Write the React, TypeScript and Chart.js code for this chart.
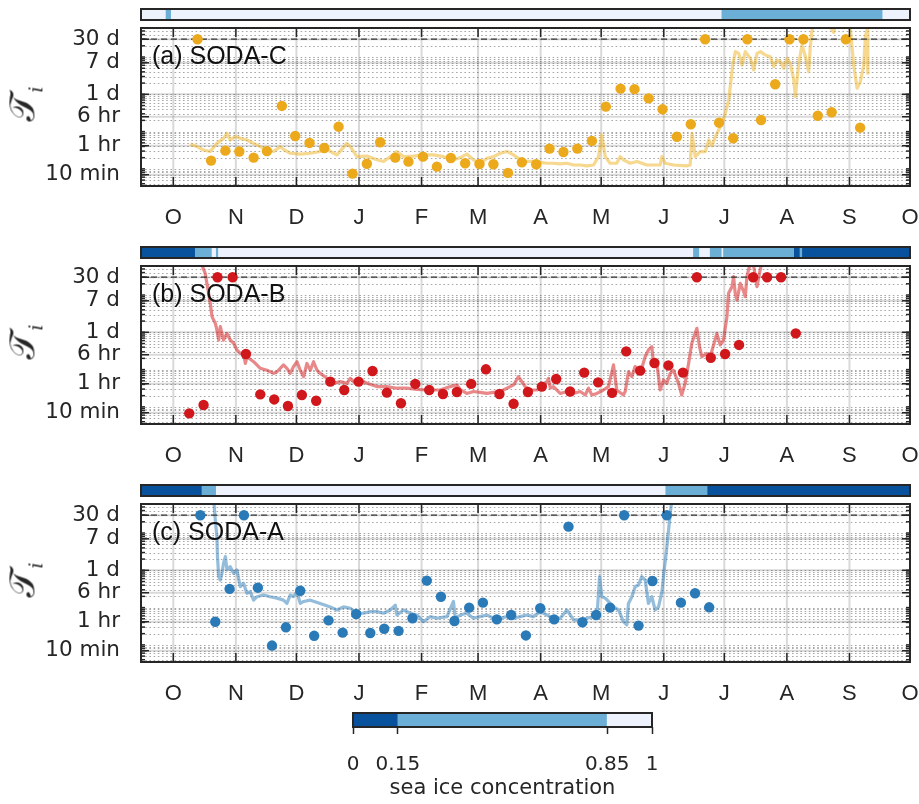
import React, { useEffect, useRef } from "react";
import { Chart, registerables } from "chart.js";

Chart.register(...registerables);

// ---------- axes ----------
// time axis: days since 1 October; the view opens mid-September
const DAY_MIN = -16;
const DAY_MAX = 365;
const MONTH_START_DAYS = [0, 31, 61, 92, 123, 151, 182, 212, 243, 273, 304, 335, 365];
const MONTH_LABELS = ["O", "N", "D", "J", "F", "M", "A", "M", "J", "J", "A", "S", "O"];

// timescale axis, in days
const TIMESCALE_TICKS = [1 / 144, 1 / 24, 6 / 24, 1, 7, 30];
const TIMESCALE_LABELS = ["10 min", "1 hr", "6 hr", "1 d", "7 d", "30 d"];
const TIMESCALE_MIN = 5 / 1440;
const TIMESCALE_MAX = 60;
const CAP_DAYS = 30;
const HOURS_PER_DAY = 24;

// sea ice concentration classes
const ICE_CLASS_EDGES = [0, 0.15, 0.85, 1];
const ICE_CLASS_LABELS = ["0", "0.15", "0.85", "1"];
const ICE_CLASS_COLORS = ["#08519c", "#6baed6", "#eef2fd"];

// ---------- SODA-C ----------
const sodaCLineDays = [
  8.4, 11.7, 15.0, 18.3, 21.6, 24.9, 26.6, 28.2, 30.7, 33.2,
  36.5, 39.8, 43.1, 46.4, 49.7, 53.0, 54.6, 57.9, 62.9, 67.9,
  72.8, 76.1, 77.8, 81.1, 86.0, 87.7, 91.0, 95.9, 100.9, 104.2,
  107.5, 110.8, 114.1, 119.0, 124.0, 128.9, 133.9, 138.8, 142.2, 145.4,
  148.7, 152.0, 155.4, 158.7, 162.0, 165.3, 168.6, 171.9, 175.2, 178.4,
  181.8, 185.1, 188.3, 191.7, 195.0, 198.3, 201.6, 204.9, 208.2, 210.7,
  212.3, 214.0, 216.4, 219.7, 221.4, 223.0, 226.4, 229.7, 234.6, 241.2,
  242.1, 243.7, 247.9, 254.5, 256.1, 257.0, 258.6, 261.1, 263.6, 265.3,
  266.9, 268.6, 270.2, 271.9, 273.5, 275.2, 276.3, 277.3, 278.5, 280.1,
  281.8, 283.4, 285.9, 287.6, 289.2, 290.9, 293.3, 295.8, 297.5, 299.1,
  300.8, 302.4, 304.1, 305.7, 307.4, 308.2, 309.9, 311.5, 313.2, 314.8,
  315.6, 316.5, 318.1, 322.3, 327.2, 328.9, 333.8, 335.5, 337.1, 338.8,
  340.4, 342.1, 342.9, 343.7, 344.1,
];
const sodaCLineHours = [
  1.12, 0.95, 0.77, 0.7, 1.16, 1.58, 2.16, 1.43, 1.76, 1.58,
  1.43, 1.16, 0.95, 0.77, 0.7, 0.95, 0.8, 0.63, 0.6, 0.63,
  0.7, 0.85, 0.7, 0.57, 1.16, 0.95, 0.51, 0.53, 0.42, 0.38,
  0.51, 0.7, 0.51, 0.53, 0.57, 0.57, 0.51, 0.42, 0.48, 0.6,
  0.42, 0.34, 0.46, 0.51, 0.63, 0.7, 0.57, 0.42, 0.38, 0.38,
  0.36, 0.34, 0.34, 0.325, 0.34, 0.305, 0.305, 0.29, 0.305, 0.51,
  1.95, 0.51, 0.34, 0.34, 0.51, 0.42, 0.34, 0.38, 0.305, 0.305,
  0.51, 0.34, 0.305, 0.29, 0.305, 2.16, 0.51, 0.7, 0.7, 1.43,
  1.0, 1.76, 2.65, 4.0, 7.4, 16.9, 58, 163, 334, 301,
  146, 334, 221, 108, 301, 334, 271, 245, 132, 199,
  180, 119, 221, 163, 58, 20.7, 163, 504, 245, 97,
  454, 1271, 3000, 3000, 1100, 3000, 3000, 1271, 146, 35,
  52, 146, 842, 1271, 88,
];
const sodaCPointDays = [
  12.0, 18.7, 25.8, 32.7, 39.8, 46.4, 53.8, 60.4, 67.5, 74.8,
  81.9, 88.8, 95.9, 102.5, 110.0, 116.5, 123.7, 130.6, 137.5, 144.6,
  151.7, 158.6, 165.8, 172.7, 179.8, 186.4, 193.3, 200.2, 207.4, 214.3,
  221.6, 228.5, 235.5, 242.4, 249.5, 256.4, 263.5, 270.4, 277.4, 284.4,
  291.2, 298.2, 305.3, 312.2, 319.3, 326.2, 333.2, 340.3,
];
const sodaCPointHours = [
  720, 0.4, 0.74, 0.7, 0.48, 0.72, 11.7, 1.83, 1.19, 0.87,
  3.25, 0.179, 0.33, 1.24, 0.48, 0.375, 0.51, 0.275, 0.47, 0.34,
  0.325, 0.32, 0.187, 0.36, 0.32, 0.84, 0.68, 0.84, 1.35, 11.2,
  34, 33, 18.7, 9.5, 1.75, 3.77, 720, 4.16, 1.59, 720,
  4.9, 44.5, 720, 720, 6.4, 7.9, 720, 3.06,
];
const sodaCIceEdges = [-16, -3.6, -1.0, 271.8, 351.5, 365];
const sodaCIceClass = [2, 1, 2, 1, 2];

// ---------- SODA-B ----------
const sodaBLineDays = [
  14.2, 15.8, 17.5, 18.3, 19.2, 20.0, 20.8, 21.6, 22.5, 23.3,
  24.9, 26.6, 28.2, 29.9, 31.5, 33.2, 34.8, 35.7, 36.5, 39.8,
  43.1, 46.4, 49.7, 51.4, 54.6, 56.3, 57.9, 59.6, 61.3, 62.9,
  64.6, 66.2, 67.9, 69.5, 71.2, 72.8, 76.1, 79.4, 82.7, 86.0,
  87.7, 89.3, 92.6, 95.9, 100.9, 105.8, 110.8, 115.7, 120.7, 125.7,
  132.2, 137.2, 140.5, 142.2, 145.4, 148.7, 152.0, 155.4, 158.7, 162.0,
  165.3, 168.6, 171.0, 172.7, 174.3, 176.8, 180.1, 183.4, 185.1, 185.9,
  186.8, 188.3, 191.7, 195.0, 198.3, 201.6, 204.1, 205.7, 207.4, 209.9,
  213.1, 215.6, 218.1, 219.7, 223.0, 223.9, 225.5, 227.2, 228.8, 231.3,
  233.8, 235.4, 237.1, 237.9, 239.6, 241.2, 242.9, 244.5, 246.2, 247.8,
  250.3, 251.9, 253.6, 255.3, 256.9, 259.4, 260.7, 261.9, 264.4, 266.0,
  267.7, 269.3, 271.0, 272.6, 274.3, 275.1, 276.8, 277.6, 278.4, 279.3,
  280.9, 282.6, 283.4, 284.2, 285.0, 285.9, 287.6, 289.2, 290.9, 291.7,
];
const sodaBLineHours = [
  1530, 914, 266, 144, 63, 51, 42, 27.7, 14.9, 34,
  14.9, 22.5, 14.9, 12.2, 8.1, 6.5, 6.5, 3.5, 5.3, 3.9,
  2.6, 2.3, 1.9, 2.1, 3.2, 2.6, 1.9, 2.9, 3.9, 2.3,
  1.55, 3.5, 2.3, 3.9, 2.3, 1.9, 1.4, 1.03, 1.14, 1.03,
  1.4, 1.14, 1.26, 1.03, 0.84, 0.84, 0.76, 0.76, 0.71, 0.68,
  0.68, 0.84, 0.93, 0.7, 0.55, 0.62, 0.59, 0.55, 0.59, 0.62,
  0.76, 0.93, 1.55, 1.14, 0.84, 0.68, 0.68, 0.84, 1.14, 1.4,
  0.76, 0.84, 0.55, 0.62, 0.55, 0.62, 0.5, 0.76, 0.5, 0.55,
  0.68, 0.84, 3.2, 0.68, 0.5, 0.62, 2.1, 1.55, 2.9, 1.9,
  5.3, 8.1, 9.9, 3.5, 3.5, 0.68, 1.26, 1.03, 1.9, 2.3,
  1.03, 0.5, 1.03, 3.5, 12.2, 30.7, 9.9, 5.3, 6.5, 5.3,
  11.0, 22.5, 11.0, 14.9, 63, 266, 402, 745, 266, 176,
  493, 295, 217, 745, 1125, 1690, 1380, 402, 1245, 1690,
];
const sodaBPointDays = [
  7.9, 15.0, 21.9, 29.4, 36.0, 43.1, 50.0, 56.8, 63.7, 70.8,
  77.8, 84.7, 91.8, 98.7, 105.8, 112.8, 119.9, 126.8, 133.6, 140.5,
  147.6, 154.9, 161.6, 168.6, 175.7, 182.6, 189.7, 196.6, 203.6, 210.5,
  217.4, 224.4, 231.3, 238.4, 245.3, 252.5, 259.4, 266.3, 273.4, 280.3,
  287.3, 294.2, 301.1, 308.4,
];
const sodaBPointHours = [
  0.161, 0.27, 720, 720, 6.3, 0.52, 0.38, 0.254, 0.5, 0.35,
  1.14, 0.68, 1.14, 2.2, 0.58, 0.3, 0.99, 0.68, 0.53, 0.6,
  0.99, 2.44, 0.53, 0.29, 0.6, 0.84, 1.34, 0.62, 1.99, 1.09,
  0.57, 7.4, 2.25, 3.6, 3.1, 1.99, 720, 5.0, 6.3, 11,
  720, 720, 720, 22.5,
];
const sodaBIceEdges = [
  -16, 10.9, 19.2, 21.3, 22.4, 257.7, 260.7, 266.0, 271.8, 272.6, 307.7, 310.5, 311.7, 365,
];
const sodaBIceClass = [0, 1, 2, 1, 2, 1, 2, 1, 2, 1, 0, 1, 0];

// ---------- SODA-A ----------
const sodaALineDays = [
  20.0, 20.8, 21.6, 21.9, 22.5, 23.3, 24.1, 24.9, 25.8, 26.6,
  28.2, 29.9, 31.5, 33.2, 34.8, 36.5, 38.1, 39.8, 41.5, 44.7,
  48.0, 51.4, 54.6, 56.3, 57.9, 59.6, 61.3, 62.9, 64.6, 67.9,
  72.8, 77.8, 81.1, 84.3, 87.7, 91.0, 94.3, 97.6, 100.9, 104.2,
  107.5, 110.0, 110.8, 114.1, 117.4, 120.7, 124.0, 127.3, 130.6, 135.6,
  138.8, 139.7, 142.2, 145.4, 148.7, 152.0, 155.4, 158.7, 162.0, 165.3,
  168.6, 171.9, 175.2, 178.4, 181.8, 185.1, 188.3, 191.7, 195.0, 198.3,
  201.6, 204.9, 208.2, 209.9, 211.2, 212.3, 214.0, 215.6, 218.1, 220.6,
  223.0, 224.7, 225.5, 227.2, 228.8, 230.5, 232.1, 233.8, 235.4, 237.1,
  238.7, 240.4, 242.1, 243.2, 244.2, 245.4, 246.2, 247.1,
];
const sodaALineHours = [
  2000, 536, 192, 56, 16.2, 13.2, 19.9, 37, 56, 24.5,
  30, 19.9, 24.5, 8.7, 10.7, 5.8, 6.4, 3.8, 4.7, 5.2,
  4.7, 4.3, 3.8, 3.1, 5.2, 4.7, 6.4, 3.1, 3.5, 3.8,
  3.1, 2.5, 2.07, 2.5, 2.3, 1.69, 1.69, 1.87, 1.87, 1.69,
  2.07, 2.8, 1.52, 2.07, 1.69, 1.52, 1.01, 1.37, 1.24, 1.37,
  3.5, 1.24, 1.52, 1.69, 1.24, 1.37, 1.52, 1.24, 1.24, 1.37,
  1.24, 1.37, 1.52, 1.37, 1.87, 1.52, 1.24, 1.24, 2.07, 1.12,
  1.12, 1.24, 1.37, 1.37, 16.2, 4.7, 4.3, 3.5, 2.5, 2.07,
  1.01, 0.82, 3.1, 4.7, 8.7, 9.7, 16.2, 13.2, 3.1, 4.7,
  2.07, 2.5, 6.4, 24.5, 68, 289, 809, 2000,
];
const sodaAPointDays = [
  13.4, 20.8, 27.9, 35.0, 41.9, 48.9, 55.8, 62.9, 69.8, 76.9,
  83.9, 90.6, 97.6, 104.5, 111.6, 118.5, 125.6, 132.6, 139.3, 146.6,
  153.4, 160.3, 167.4, 174.7, 181.8, 188.7, 195.8, 202.7, 209.5, 216.4,
  223.4, 230.5, 237.4, 244.5, 251.5, 258.5, 265.5,
];
const sodaAPointHours = [
  720, 1.0, 7.6, 720, 8.2, 0.23, 0.71, 6.8, 0.42, 1.09,
  0.51, 1.62, 0.5, 0.65, 0.57, 1.24, 12.7, 4.7, 1.05, 2.39,
  3.26, 1.16, 1.52, 0.43, 2.3, 1.16, 355, 0.97, 1.52, 2.39,
  720, 0.79, 12.4, 720, 3.26, 5.8, 2.44,
];
const sodaAIceEdges = [-16, 14.2, 21.3, 244.0, 264.8, 365];
const sodaAIceClass = [0, 1, 2, 1, 0];

// ---------- layout ----------
const INK = "#262626";
const TICK_FONT = "'DejaVu Sans', 'Liberation Sans', sans-serif";
const LABEL_FONT = "'Liberation Sans', Arial, Helvetica, sans-serif";
const CANVAS_W = 919;
const PANEL_STEP = 238;
const PANEL_H = 230;
const PLOT_LEFT = 141;
const PLOT_RIGHT_PAD = 9;
const PLOT_TOP = 28;
const PLOT_H = 158;
const STRIP_H = 24;

// dotted minor grid at 1..9 x 10^n days
const MINOR_GRID_DAYS: number[] = [];
for (let e = -3; e <= 1; e++) {
  for (let k = 1; k <= 9; k++) {
    const v = k * Math.pow(10, e);
    if (v > TIMESCALE_MIN && v < TIMESCALE_MAX) MINOR_GRID_DAYS.push(v);
  }
}

const toPoints = (days: number[], hours: number[]) =>
  days.map((d, i) => ({ x: d, y: hours[i] / HOURS_PER_DAY }));

const panelFrame = {
  id: "panelFrame",
  beforeDatasetsDraw(chart: any) {
    const { ctx, chartArea: a } = chart;
    const xs = chart.scales.x;
    const ys = chart.scales.y;
    ctx.save();
    ctx.beginPath();
    ctx.rect(a.left, a.top, a.right - a.left, a.bottom - a.top);
    ctx.clip();
    // dotted minor rows
    ctx.lineWidth = 1;
    ctx.strokeStyle = "rgba(0,0,0,0.34)";
    ctx.setLineDash([1.6, 2.6]);
    for (const v of MINOR_GRID_DAYS) {
      const py = Math.round(ys.getPixelForValue(v)) + 0.5;
      ctx.beginPath();
      ctx.moveTo(a.left, py);
      ctx.lineTo(a.right, py);
      ctx.stroke();
    }
    // solid major rows and month columns
    ctx.setLineDash([]);
    ctx.strokeStyle = "rgba(0,0,0,0.15)";
    ctx.lineWidth = 2;
    for (const v of TIMESCALE_TICKS) {
      const py = ys.getPixelForValue(v);
      ctx.beginPath();
      ctx.moveTo(a.left, py);
      ctx.lineTo(a.right, py);
      ctx.stroke();
    }
    for (const d of MONTH_START_DAYS) {
      const px = xs.getPixelForValue(d);
      ctx.beginPath();
      ctx.moveTo(px, a.top);
      ctx.lineTo(px, a.bottom);
      ctx.stroke();
    }
    ctx.restore();
  },
  afterDraw(chart: any) {
    const { ctx, chartArea: a } = chart;
    const xs = chart.scales.x;
    const ys = chart.scales.y;
    ctx.save();
    ctx.strokeStyle = INK;
    ctx.lineWidth = 1.5;
    const seg = (x1: number, y1: number, x2: number, y2: number) => {
      ctx.beginPath();
      ctx.moveTo(x1, y1);
      ctx.lineTo(x2, y2);
      ctx.stroke();
    };
    for (const v of MINOR_GRID_DAYS) {
      const py = ys.getPixelForValue(v);
      seg(a.left, py, a.left + 4, py);
      seg(a.right, py, a.right - 4, py);
    }
    for (const v of TIMESCALE_TICKS) {
      const py = ys.getPixelForValue(v);
      seg(a.left, py, a.left + 8, py);
      seg(a.right, py, a.right - 8, py);
    }
    for (const d of MONTH_START_DAYS) {
      const px = xs.getPixelForValue(d);
      seg(px, a.bottom, px, a.bottom - 9);
      seg(px, a.top, px, a.top + 9);
    }
    ctx.lineWidth = 2;
    ctx.strokeRect(a.left, a.top, a.right - a.left, a.bottom - a.top);
    ctx.restore();
  },
};

const boxFrame = {
  id: "boxFrame",
  afterDraw(chart: any) {
    const { ctx, chartArea: a } = chart;
    ctx.save();
    ctx.strokeStyle = INK;
    ctx.lineWidth = 2;
    ctx.strokeRect(a.left, a.top, a.right - a.left, a.bottom - a.top);
    ctx.restore();
  },
};

type IceProps = { top: number; edges: number[]; classes: number[] };

function IceStrip({ top, edges, classes }: IceProps) {
  const ref = useRef<HTMLCanvasElement>(null);
  useEffect(() => {
    const chart = new Chart(ref.current as HTMLCanvasElement, {
      type: "bar",
      data: {
        labels: ["ice"],
        datasets: [
          {
            data: classes.map((_, i) => ({ x: [edges[i], edges[i + 1]], y: "ice" })) as any,
            backgroundColor: classes.map((c) => ICE_CLASS_COLORS[c]),
            borderWidth: 0,
            barPercentage: 1,
            categoryPercentage: 1,
          },
        ],
      },
      options: {
        indexAxis: "y",
        responsive: false,
        animation: false,
        events: [],
        layout: { padding: { left: PLOT_LEFT, right: PLOT_RIGHT_PAD, top: 9, bottom: STRIP_H - 20 } },
        scales: {
          x: { type: "linear", min: DAY_MIN, max: DAY_MAX, display: false },
          y: { type: "category", display: false },
        },
        plugins: { legend: { display: false }, tooltip: { enabled: false } },
      },
      plugins: [boxFrame],
    });
    return () => chart.destroy();
  }, []);
  return (
    <canvas
      ref={ref}
      width={CANVAS_W}
      height={STRIP_H}
      style={{ position: "absolute", left: 0, top, width: CANVAS_W, height: STRIP_H }}
    />
  );
}

type PanelProps = {
  top: number;
  tag: string;
  lineDays: number[];
  lineHours: number[];
  pointDays: number[];
  pointHours: number[];
  pointColor: string;
  lineColor: string;
  iceEdges: number[];
  iceClass: number[];
};

function TimescalePanel(p: PanelProps) {
  const ref = useRef<HTMLCanvasElement>(null);
  useEffect(() => {
    const chart = new Chart(ref.current as HTMLCanvasElement, {
      type: "scatter",
      data: {
        datasets: [
          {
            label: "weekly",
            data: toPoints(p.pointDays, p.pointHours),
            pointBackgroundColor: p.pointColor,
            backgroundColor: p.pointColor,
            pointBorderWidth: 0,
            pointRadius: 5.2,
            order: 0,
          },
          {
            label: "30 d",
            data: [
              { x: DAY_MIN, y: CAP_DAYS },
              { x: DAY_MAX, y: CAP_DAYS },
            ],
            showLine: true,
            borderColor: "#3a3a3a",
            borderWidth: 1.2,
            borderDash: [6, 4],
            pointRadius: 0,
            order: 1,
          },
          {
            label: "running",
            data: toPoints(p.lineDays, p.lineHours),
            showLine: true,
            borderColor: p.lineColor,
            borderWidth: 3.2,
            borderJoinStyle: "round",
            pointRadius: 0,
            order: 2,
          },
        ],
      },
      options: {
        responsive: false,
        animation: false,
        events: [],
        layout: { padding: { left: 0, right: PLOT_RIGHT_PAD, top: PLOT_TOP, bottom: 0 } },
        plugins: { legend: { display: false }, tooltip: { enabled: false } },
        scales: {
          x: {
            type: "linear",
            min: DAY_MIN,
            max: DAY_MAX,
            afterBuildTicks: (s: any) => {
              s.ticks = MONTH_START_DAYS.map((v) => ({ value: v }));
            },
            afterFit: (s: any) => {
              s.height = PANEL_H - PLOT_TOP - PLOT_H;
              s.paddingLeft = 0;
              s.paddingRight = 0;
            },
            ticks: {
              callback: (_v: any, i: number) => MONTH_LABELS[i],
              autoSkip: false,
              maxRotation: 0,
              padding: 11,
              color: INK,
              font: { family: LABEL_FONT, size: 22 },
            },
            grid: { display: false },
            border: { display: false },
          },
          y: {
            type: "logarithmic",
            min: TIMESCALE_MIN,
            max: TIMESCALE_MAX,
            afterBuildTicks: (s: any) => {
              s.ticks = TIMESCALE_TICKS.map((v) => ({ value: v }));
            },
            afterFit: (s: any) => {
              s.width = PLOT_LEFT;
              s.paddingTop = 0;
              s.paddingBottom = 0;
            },
            ticks: {
              callback: (_v: any, i: number) => TIMESCALE_LABELS[i],
              autoSkip: false,
              padding: 13,
              color: INK,
              font: { family: TICK_FONT, size: 21.5, lineHeight: 1 },
            },
            grid: { display: false },
            border: { display: false },
          },
        },
      },
      plugins: [panelFrame],
    });
    return () => chart.destroy();
  }, []);

  const plotMid = p.top + PLOT_TOP + PLOT_H / 2;
  return (
    <>
      <canvas
        ref={ref}
        width={CANVAS_W}
        height={PANEL_H}
        style={{ position: "absolute", left: 0, top: p.top, width: CANVAS_W, height: PANEL_H }}
      />
      <IceStrip top={p.top} edges={p.iceEdges} classes={p.iceClass} />
      <div
        style={{
          position: "absolute",
          left: 152,
          top: p.top + 43.3,
          fontFamily: LABEL_FONT,
          fontSize: 25,
          lineHeight: "25px",
          color: "#111",
          whiteSpace: "nowrap",
        }}
      >
        {p.tag}
      </div>
      <div
        style={{
          position: "absolute",
          left: 29,
          top: plotMid - 3,
          transform: "translate(-50%, -50%) rotate(-90deg)",
          fontFamily: "'DejaVu Serif', 'DejaVu Sans', serif",
          fontSize: 36,
          lineHeight: "36px",
          color: INK,
          whiteSpace: "nowrap",
        }}
      >
        𝒯<sub style={{ fontSize: 19, fontStyle: "italic", marginLeft: 1 }}>i</sub>
      </div>
    </>
  );
}

function ConcentrationBar() {
  const ref = useRef<HTMLCanvasElement>(null);
  useEffect(() => {
    const chart = new Chart(ref.current as HTMLCanvasElement, {
      type: "bar",
      data: {
        labels: ["sic"],
        datasets: [
          {
            data: ICE_CLASS_COLORS.map((_, i) => ({
              x: [ICE_CLASS_EDGES[i], ICE_CLASS_EDGES[i + 1]],
              y: "sic",
            })) as any,
            backgroundColor: ICE_CLASS_COLORS,
            borderWidth: 0,
            barPercentage: 1,
            categoryPercentage: 1,
          },
        ],
      },
      options: {
        indexAxis: "y",
        responsive: false,
        animation: false,
        events: [],
        layout: { padding: { left: 353, right: CANVAS_W - 652, top: 23, bottom: 0 } },
        scales: {
          x: {
            type: "linear",
            min: 0,
            max: 1,
            afterBuildTicks: (s: any) => {
              s.ticks = ICE_CLASS_EDGES.map((v) => ({ value: v }));
            },
            afterFit: (s: any) => {
              s.height = 77;
              s.paddingLeft = 0;
              s.paddingRight = 0;
            },
            ticks: {
              callback: (_v: any, i: number) => ICE_CLASS_LABELS[i],
              autoSkip: false,
              maxRotation: 0,
              padding: 19,
              color: INK,
              font: { family: TICK_FONT, size: 20 },
            },
            grid: {
              display: true,
              drawOnChartArea: false,
              drawTicks: true,
              tickLength: 7,
              tickWidth: 1.5,
              tickColor: INK,
              color: INK,
            },
            border: { display: false },
            title: {
              display: true,
              text: "sea ice concentration",
              color: INK,
              font: { family: TICK_FONT, size: 21 },
              padding: { top: 0, bottom: 3 },
            },
          },
          y: { type: "category", display: false },
        },
        plugins: { legend: { display: false }, tooltip: { enabled: false } },
      },
      plugins: [boxFrame],
    });
    return () => chart.destroy();
  }, []);
  return (
    <canvas
      ref={ref}
      width={CANVAS_W}
      height={114}
      style={{ position: "absolute", left: 0, top: 690, width: CANVAS_W, height: 114 }}
    />
  );
}

export default function App() {
  return (
    <div
      style={{
        position: "absolute",
        left: 0,
        top: 0,
        width: CANVAS_W,
        height: 804,
        background: "#fff",
        overflow: "hidden",
      }}
    >
      <TimescalePanel
        top={0}
        tag="(a) SODA-C"
        lineDays={sodaCLineDays}
        lineHours={sodaCLineHours}
        pointDays={sodaCPointDays}
        pointHours={sodaCPointHours}
        pointColor="#EBA91B"
        lineColor="rgba(237,177,32,0.5)"
        iceEdges={sodaCIceEdges}
        iceClass={sodaCIceClass}
      />
      <TimescalePanel
        top={PANEL_STEP}
        tag="(b) SODA-B"
        lineDays={sodaBLineDays}
        lineHours={sodaBLineHours}
        pointDays={sodaBPointDays}
        pointHours={sodaBPointHours}
        pointColor="#D0171C"
        lineColor="rgba(214,39,40,0.55)"
        iceEdges={sodaBIceEdges}
        iceClass={sodaBIceClass}
      />
      <TimescalePanel
        top={PANEL_STEP * 2}
        tag="(c) SODA-A"
        lineDays={sodaALineDays}
        lineHours={sodaALineHours}
        pointDays={sodaAPointDays}
        pointHours={sodaAPointHours}
        pointColor="#2A7AB8"
        lineColor="rgba(42,122,184,0.5)"
        iceEdges={sodaAIceEdges}
        iceClass={sodaAIceClass}
      />
      <ConcentrationBar />
    </div>
  );
}
